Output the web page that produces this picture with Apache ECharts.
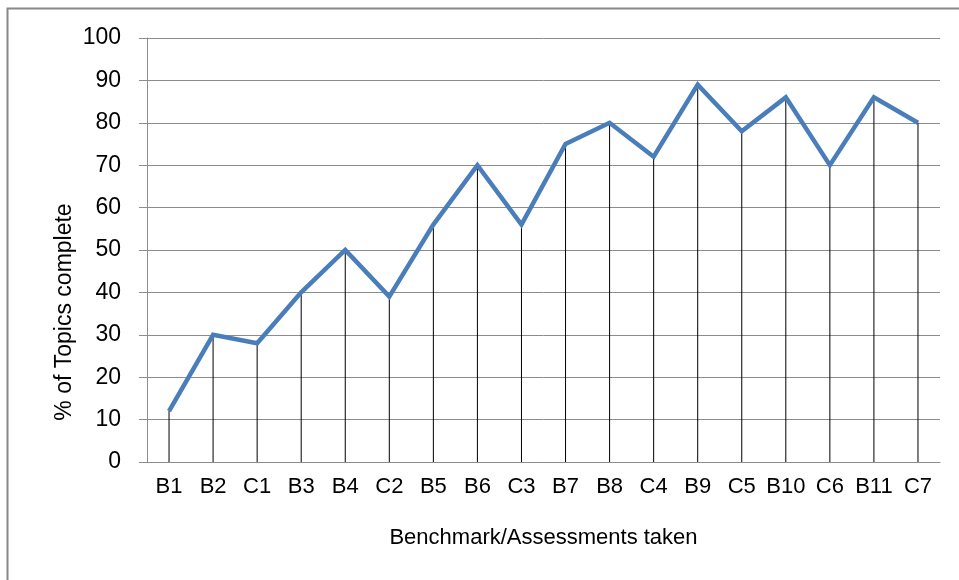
<!DOCTYPE html>
<html>
<head>
<meta charset="utf-8">
<script src="https://cdn.jsdelivr.net/npm/echarts@6/dist/echarts.min.js"></script>
<style>
  html, body { margin: 0; padding: 0; background: #fff; }
  #chart { width: 959px; height: 580px; }
</style>
</head>
<body>
<div id="chart"></div>
<script>
// data
var categories = ['B1', 'B2', 'C1', 'B3', 'B4', 'C2', 'B5', 'B6', 'C3', 'B7', 'B8', 'C4', 'B9', 'C5', 'B10', 'C6', 'B11', 'C7'];
var values = [12, 30, 28, 40, 50, 39, 56, 70, 56, 75, 80, 72, 89, 78, 86, 70, 86, 80];
var yTicks = [0, 10, 20, 30, 40, 50, 60, 70, 80, 90, 100];

var fontName = 'Liberation Sans';
var gray = '#8c8c8c';

var myChart = echarts.init(document.getElementById('chart'));

var option = {
  backgroundColor: '#fff',
  animation: false,
  graphic: [
    {
      // outer frame
      type: 'rect',
      shape: { x: 7.5, y: 8.5, width: 1000, height: 1000 },
      style: { fill: 'none', stroke: '#888', lineWidth: 2 }
    },
    {
      type: 'text',
      x: 65,
      y: 312,
      rotation: Math.PI / 2,
      style: {
        text: '% of Topics complete',
        font: '23px ' + fontName,
        fill: '#000',
        textAlign: 'center',
        textVerticalAlign: 'middle'
      }
    }
  ],
  grid: {
    left: 147,
    right: 19,
    top: 38,
    bottom: 118
  },
  xAxis: {
    type: 'category',
    data: categories,
    boundaryGap: true,
    name: 'Benchmark/Assessments taken',
    nameLocation: 'middle',
    nameGap: 65,
    nameTextStyle: { fontSize: 22, fontFamily: fontName, color: '#000' },
    axisLine: { lineStyle: { color: gray, width: 1 } },
    axisTick: { show: false },
    axisLabel: { fontSize: 22, fontFamily: fontName, color: '#000', margin: 14, interval: 0 }
  },
  yAxis: {
    type: 'value',
    min: yTicks[0],
    max: yTicks[yTicks.length - 1],
    interval: 10,
    axisLine: { show: true, lineStyle: { color: gray, width: 1 } },
    axisTick: { show: true, length: 8, lineStyle: { color: gray } },
    splitLine: { show: true, lineStyle: { color: gray, width: 1 } },
    axisLabel: { fontSize: 23, fontFamily: fontName, color: '#000', margin: 26 }
  },
  series: [
    {
      // drop lines
      type: 'bar',
      data: values,
      barWidth: 1,
      itemStyle: { color: '#000' },
      z: 2
    },
    {
      type: 'line',
      data: values,
      symbol: 'none',
      lineStyle: { color: '#4a7ebb', width: 4.5, join: 'miter' },
      z: 3
    }
  ]
};

myChart.setOption(option);
</script>
</body>
</html>
